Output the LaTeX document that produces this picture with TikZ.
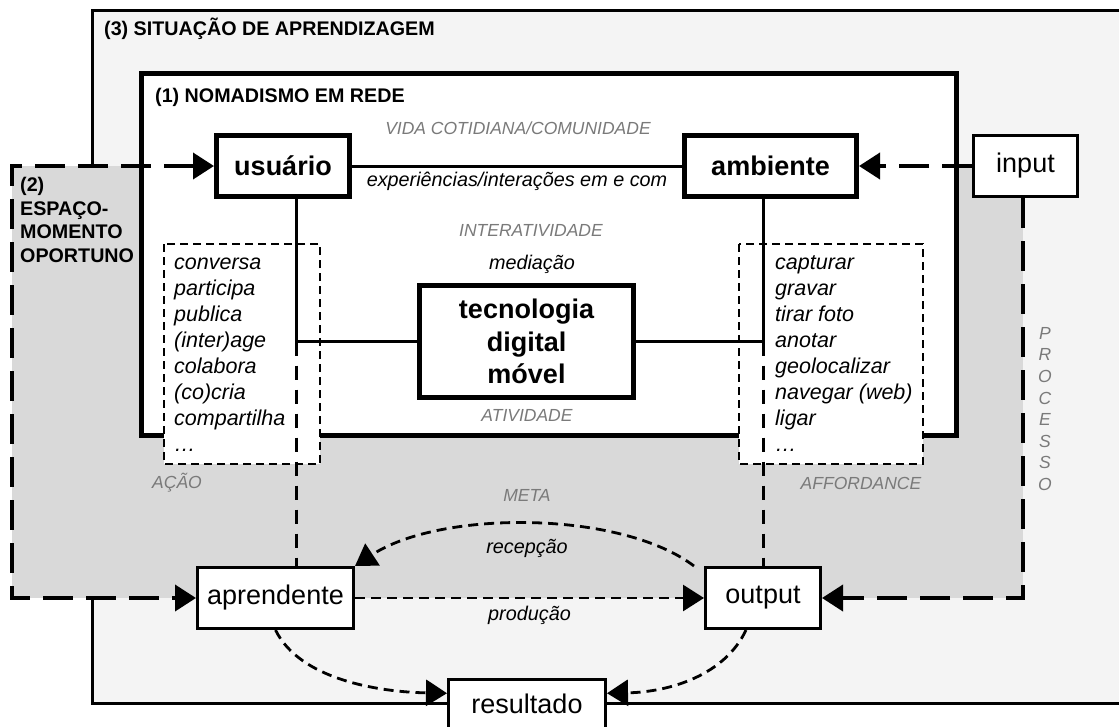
\documentclass[tikz,border=0pt]{standalone}
\usepackage{fontspec}
\setmainfont{Liberation Sans}
\usetikzlibrary{arrows.meta,calc}
\definecolor{outerfill}{HTML}{F4F4F4}
\definecolor{spacefill}{HTML}{D9D9D9}
\definecolor{labelgray}{HTML}{7A7A7A}

\begin{document}
\begin{tikzpicture}[x=1pt,y=-1pt]
	\tikzset{
	    bigbox/.style={draw,fill=white,line width=5pt,inner sep=0pt,align=center,
	        font=\fontsize{27}{32.6}\selectfont\bfseries},
	    smallbox/.style={draw,fill=white,line width=3pt,inner sep=0pt,minimum height=61pt,
	        font=\fontsize{27}{32.6}\selectfont},
	    boxtitle/.style={anchor=base west,inner sep=0pt,font=\fontsize{19.7}{23.7}\selectfont\bfseries},
	    graylabel/.style={inner sep=0pt,text=labelgray,font=\fontsize{17.5}{21.6}\selectfont\itshape},
	    edgelabel/.style={inner sep=0pt,font=\fontsize{19.8}{23.8}\selectfont\itshape},
	    listitem/.style={anchor=base west,inner sep=0pt,font=\fontsize{21.5}{26}\selectfont\itshape},
	    listframe/.style={draw,fill=white,line width=2.7pt,dash pattern=on 8pt off 5pt},
	    bigtip/.style={-{Triangle[length=21pt,width=26pt]}},
	    solidlink/.style={line width=3pt},
	    linkdash/.style={line width=3pt,dash pattern=on 14pt off 10pt},
	    flowdash/.style={line width=2.8pt,dash pattern=on 10pt off 6pt,bigtip},
	    procline/.style={line width=3.8pt,dash pattern=on 30pt off 13pt}
	}
	\useasboundingbox (0,0) rectangle (1119,726);
	% (3) situacao, (2) espaco-momento, (1) nomadismo
	\draw[fill=outerfill,line width=3pt] (92,10) rectangle (1140,703);
	\fill[spacefill] (12,166) rectangle (1023,598);
	\draw[fill=white,line width=5pt] (141,73) rectangle (956,435);
	\draw[listframe] (164,244) rectangle (320,464);
	\draw[listframe] (739,244) rectangle (923,464);

	\node[boxtitle] (t3) at (104,35) {(3) SITUAÇÃO DE APRENDIZAGEM};
	\node[boxtitle] (t1) at (155,102) {(1) NOMADISMO EM REDE};
	\node[boxtitle,align=left,anchor=north west] (t2) at (20,177) {(2)\\ESPAÇO-\\MOMENTO\\OPORTUNO};

	\node[bigbox,minimum width=133pt,minimum height=61pt] (usu) at (283,166) {usuário};
	\node[bigbox,minimum width=172pt,minimum height=61pt] (amb) at (770.5,166) {ambiente};
	\node[smallbox,minimum width=104pt] (inp) at (1025.5,166) {input};
	\node[bigbox,minimum width=214pt,minimum height=112pt] (tec) at (526.5,341.5) {tecnologia\\digital\\móvel};
	\node[smallbox,minimum width=115pt] (out) at (763,598) {output};
	\node[smallbox,minimum width=156pt] (apr) at (275.5,598) {aprendente};
	\node[smallbox,minimum width=157pt,minimum height=10pt,text height=33.5pt,text depth=22pt,anchor=north] (res) at (527,678) {resultado};

	\foreach \w [count=\i] in {conversa,participa,publica,(inter)age,colabora,(co)cria,compartilha,\dots}
	    \node[listitem] (ac\i) at (174,{269+26*(\i-1)}) {\w};
	\foreach \w [count=\i] in {capturar,gravar,tirar foto,anotar,geolocalizar,navegar (web),ligar,\dots}
	    \node[listitem] (af\i) at (775,{269+26*(\i-1)}) {\w};

	\node[graylabel] (lvida) at (518,128) {VIDA COTIDIANA/COMUNIDADE};
	\node[graylabel] (linter) at (531,230) {INTERATIVIDADE};
	\node[graylabel] (lativ) at (527,415) {ATIVIDADE};
	\node[graylabel] (lmeta) at (527,495) {META};
	\node[graylabel] (lacao) at (177,483) {AÇÃO};
	\node[graylabel] (laff) at (861,483) {AFFORDANCE};
	\node[graylabel,align=center,anchor=north] (lproc) at (1045,327) {P\\R\\O\\C\\E\\S\\S\\O};
	\node[edgelabel] (lmed) at (532,264) {mediação};
	\node[edgelabel] (lrec) at (527,548) {recepção};

	\coordinate (jl) at (296,341.5);
	\coordinate (jr) at (763,341.5);
	\coordinate (gnw) at (12,166);
	\coordinate (gsw) at (12,598);
	\coordinate (gse) at (1023,598);

	\draw[solidlink] (usu) -- node[edgelabel,below=5pt] (lexp) {experiências/interações em e com} (amb);
	\draw[solidlink] (usu.south -| jl) -- (jl) -- (jl -| tec.west);
	\draw[solidlink] (amb.south -| jr) -- (jr) -- (jr -| tec.east);
	\draw[linkdash] (jl) -- (jl |- apr.north);
	\draw[linkdash] (jr) -- (out.north);

	\draw[procline,{Triangle[length=21pt,width=26pt]}-{Triangle[length=21pt,width=26pt]}] (usu.west) -- (gnw) -- (gsw) -- (apr.west);
	\draw[procline,bigtip] (inp) -- (amb);
	\draw[procline,bigtip] (inp.south -| gse) -- (gse) -- (out.east);

	\draw[flowdash] (apr) -- node[edgelabel,below=7pt] (lprod) {produção} (out);
	\draw[flowdash] ([xshift=-10pt]out.north west) .. controls (620,510) and (440,510) .. (apr.north east);
	\draw[flowdash] (apr.south) .. controls (300,680) and (380,692) .. ([yshift=14pt]res.west);
	\draw[flowdash] ([xshift=-17pt]out.south) .. controls (725,675) and (670,692) .. ([yshift=14pt]res.east);
\end{tikzpicture}
\end{document}
